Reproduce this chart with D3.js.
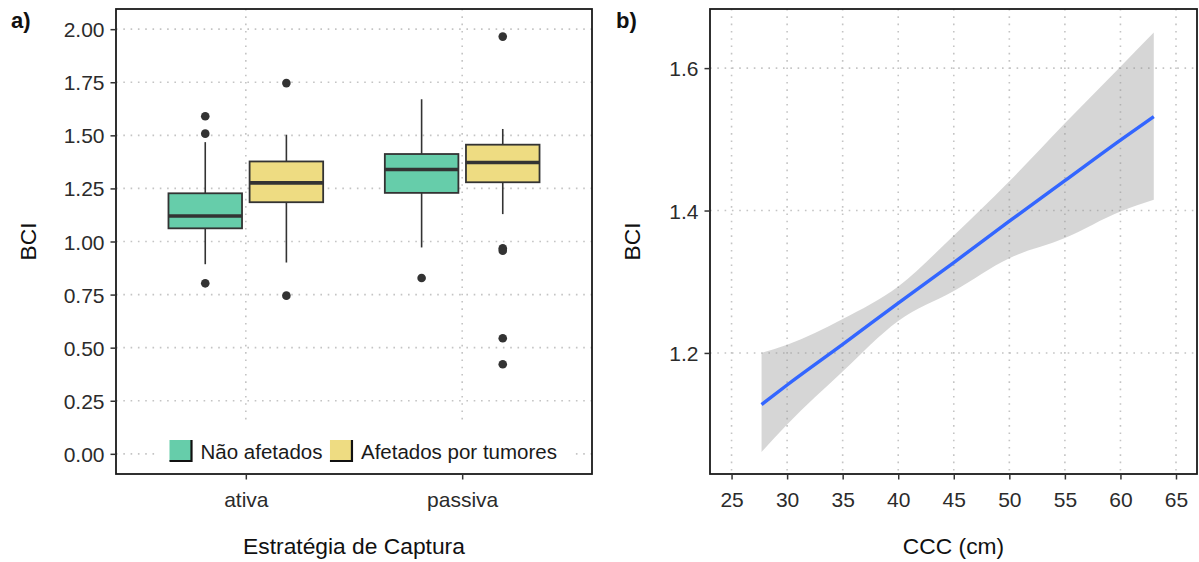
<!DOCTYPE html>
<html>
<head>
<meta charset="utf-8">
<script src="https://cdn.jsdelivr.net/npm/d3@7"></script>
<style>
  body { margin: 0; background: #fff; }
  svg { display: block; font-family: "Liberation Sans", Arial, sans-serif; }
</style>
</head>
<body>
<div id="chart"></div>
<script>
// ---- painel a) : boxplots ----
const categories = ["ativa", "passiva"];
const groups = ["Não afetados", "Afetados por tumores"];
const groupColors = ["#66cdaa", "#eedc82"];
// [whisker inferior, Q1, mediana, Q3, whisker superior] por categoria
const naoAfetadosStats = [[0.893, 1.062, 1.120, 1.227, 1.468], [0.972, 1.229, 1.339, 1.412, 1.670]];
const afetadosStats = [[0.901, 1.185, 1.276, 1.377, 1.503], [1.129, 1.279, 1.372, 1.456, 1.530]];
const naoAfetadosOutliers = [[1.590, 1.508, 0.803], [0.828]];
const afetadosOutliers = [[1.746, 0.745], [1.965, 0.968, 0.957, 0.544, 0.422]];
const bciTicksA = [0, 0.25, 0.5, 0.75, 1, 1.25, 1.5, 1.75, 2];

// ---- painel b) : regressão BCI ~ CCC ----
const cccValues = [27.7, 30, 35, 40, 45, 50, 55, 60, 63.0];
const fitValues = [1.1275, 1.155, 1.212, 1.270, 1.327, 1.385, 1.442, 1.499, 1.532];
const lowerValues = [1.061, 1.0995, 1.174, 1.245, 1.287, 1.333, 1.3613, 1.3986, 1.415];
const upperValues = [1.200, 1.2116, 1.2477, 1.2934, 1.365, 1.441, 1.5225, 1.602, 1.650];
const cccTicks = [25, 30, 35, 40, 45, 50, 55, 60, 65];
const bciTicksB = [1.2, 1.4, 1.6];

const width = 1199, height = 562;
const svg = d3.select("#chart").append("svg")
    .attr("width", width).attr("height", height);

const panelA = { left: 116, right: 592, top: 9, bottom: 474 };
const panelB = { left: 710, right: 1197, top: 9, bottom: 474 };
const gridColor = "#c4c4c4";
const axisColor = "#333";

function grid(g, x1, y1, x2, y2) {
    g.append("line")
        .attr("x1", x1).attr("y1", y1).attr("x2", x2).attr("y2", y2)
        .attr("stroke", gridColor).attr("stroke-width", 1.6)
        .attr("stroke-dasharray", "1.6,5.7");
}

// ================= painel a =================
let xA = d3.scalePoint().domain(categories).range([panelA.left, panelA.right]).padding(0.6);
let yA = d3.scaleLinear().domain([-0.095, 2.095]).range([panelA.bottom, panelA.top]);
let step = xA.step();
let dodge = [-0.1875 * step, 0.1875 * step];
let boxW = 0.34 * step;

let gA = svg.append("g");
bciTicksA.forEach(t => grid(gA, panelA.left, yA(t), panelA.right, yA(t)));
categories.forEach(c => grid(gA, xA(c), panelA.top, xA(c), panelA.bottom));

let allStats = [naoAfetadosStats, afetadosStats];
let allOutliers = [naoAfetadosOutliers, afetadosOutliers];

categories.forEach((c, ci) => {
    groups.forEach((grp, gi) => {
        let s = allStats[gi][ci];
        let cx = xA(c) + dodge[gi];
        let b = gA.append("g");
        // whiskers
        b.append("line").attr("x1", cx).attr("x2", cx)
            .attr("y1", yA(s[0])).attr("y2", yA(s[1]))
            .attr("stroke", axisColor).attr("stroke-width", 1.6);
        b.append("line").attr("x1", cx).attr("x2", cx)
            .attr("y1", yA(s[3])).attr("y2", yA(s[4]))
            .attr("stroke", axisColor).attr("stroke-width", 1.6);
        // caixa
        b.append("rect")
            .attr("x", cx - boxW / 2).attr("y", yA(s[3]))
            .attr("width", boxW).attr("height", yA(s[1]) - yA(s[3]))
            .attr("fill", groupColors[gi])
            .attr("stroke", axisColor).attr("stroke-width", 1.8);
        // mediana
        b.append("line").attr("x1", cx - boxW / 2).attr("x2", cx + boxW / 2)
            .attr("y1", yA(s[2])).attr("y2", yA(s[2]))
            .attr("stroke", axisColor).attr("stroke-width", 3.6);
        // outliers
        b.selectAll("circle").data(allOutliers[gi][ci]).enter().append("circle")
            .attr("cx", cx).attr("cy", d => yA(d)).attr("r", 4.3)
            .attr("fill", axisColor);
    });
});

// legenda dentro do painel
let legend = gA.append("g");
legend.append("rect").attr("x", 155).attr("y", 422).attr("width", 416).attr("height", 51)
    .attr("fill", "#fff");
let lx = 169.5, ly = 440;
groups.forEach((grp, gi) => {
    legend.append("rect").attr("x", lx).attr("y", ly).attr("width", 22).attr("height", 21)
        .attr("fill", groupColors[gi]);
    legend.append("path")
        .attr("d", `M${lx + 22},${ly} V${ly + 21} H${lx}`)
        .attr("fill", "none").attr("stroke", "#111").attr("stroke-width", 2.2);
    let t = legend.append("text").attr("x", lx + 31).attr("y", ly + 19)
        .attr("font-size", "20.5px").attr("fill", "#1a1a1a").text(grp);
    lx += 31 + t.node().getComputedTextLength() + 7.5;
});

// borda e eixos
gA.append("rect").attr("x", panelA.left).attr("y", panelA.top)
    .attr("width", panelA.right - panelA.left).attr("height", panelA.bottom - panelA.top)
    .attr("fill", "none").attr("stroke", "#1a1a1a").attr("stroke-width", 1.8);

let axisLeftA = svg.append("g").attr("transform", `translate(${panelA.left},0)`)
    .call(d3.axisLeft(yA).tickValues(bciTicksA).tickFormat(d3.format(".2f")).tickSize(5.5).tickPadding(6));
let axisBottomA = svg.append("g").attr("transform", `translate(0,${panelA.bottom})`)
    .call(d3.axisBottom(xA).tickSize(5.5).tickPadding(6));

// ================= painel b =================
let xB = d3.scaleLinear().domain([23.06, 66.89]).range([panelB.left, panelB.right]);
let yB = d3.scaleLinear().domain([1.030, 1.683]).range([panelB.bottom, panelB.top]);

let gB = svg.append("g");
bciTicksB.forEach(t => grid(gB, panelB.left, yB(t), panelB.right, yB(t)));
cccTicks.forEach(t => grid(gB, xB(t), panelB.top, xB(t), panelB.bottom));

let band = cccValues.map((x, i) => ({ x: x, lo: lowerValues[i], hi: upperValues[i], fit: fitValues[i] }));

gB.append("path").datum(band)
    .attr("d", d3.area().curve(d3.curveMonotoneX)
        .x(d => xB(d.x)).y0(d => yB(d.lo)).y1(d => yB(d.hi)))
    .attr("fill", "#999").attr("fill-opacity", 0.4);

gB.append("path").datum(band)
    .attr("d", d3.line().curve(d3.curveMonotoneX).x(d => xB(d.x)).y(d => yB(d.fit)))
    .attr("fill", "none").attr("stroke", "#3366ff").attr("stroke-width", 3.4);

gB.append("rect").attr("x", panelB.left).attr("y", panelB.top)
    .attr("width", panelB.right - panelB.left).attr("height", panelB.bottom - panelB.top)
    .attr("fill", "none").attr("stroke", "#1a1a1a").attr("stroke-width", 1.8);

let axisLeftB = svg.append("g").attr("transform", `translate(${panelB.left},0)`)
    .call(d3.axisLeft(yB).tickValues(bciTicksB).tickFormat(d3.format(".1f")).tickSize(5.5).tickPadding(6));
let axisBottomB = svg.append("g").attr("transform", `translate(0,${panelB.bottom})`)
    .call(d3.axisBottom(xB).tickValues(cccTicks).tickSize(5.5).tickPadding(6));

// estilo comum dos eixos
[axisLeftA, axisBottomA, axisLeftB, axisBottomB].forEach(ax => {
    ax.select(".domain").remove();
    ax.selectAll(".tick line").attr("stroke", axisColor).attr("stroke-width", 1.5);
    ax.selectAll(".tick text").attr("fill", "#2b2b2b").attr("font-size", "21px")
        .attr("font-family", "'Liberation Sans', Arial, sans-serif");
});
[axisBottomA, axisBottomB].forEach(ax => ax.selectAll(".tick text").attr("dy", null).attr("y", 33));
[axisLeftA, axisLeftB].forEach(ax => ax.selectAll(".tick text").attr("dy", "0.36em"));

// títulos
function title(x, y, txt, rotate) {
    let t = svg.append("text").attr("font-size", "22.8px").attr("fill", "#111")
        .attr("text-anchor", "middle").text(txt);
    if (rotate) t.attr("transform", `translate(${x},${y}) rotate(-90)`);
    else t.attr("x", x).attr("y", y);
}
title((panelA.left + panelA.right) / 2, 554, "Estratégia de Captura");
title((panelB.left + panelB.right) / 2, 554, "CCC (cm)");
title(36, (panelA.top + panelA.bottom) / 2, "BCI", true);
title(640, (panelB.top + panelB.bottom) / 2, "BCI", true);

svg.append("text").attr("x", 11).attr("y", 28).attr("font-size", "22px")
    .attr("font-weight", "bold").attr("fill", "#111").text("a)");
svg.append("text").attr("x", 616).attr("y", 28).attr("font-size", "22px")
    .attr("font-weight", "bold").attr("fill", "#111").text("b)");
</script>
</body>
</html>
